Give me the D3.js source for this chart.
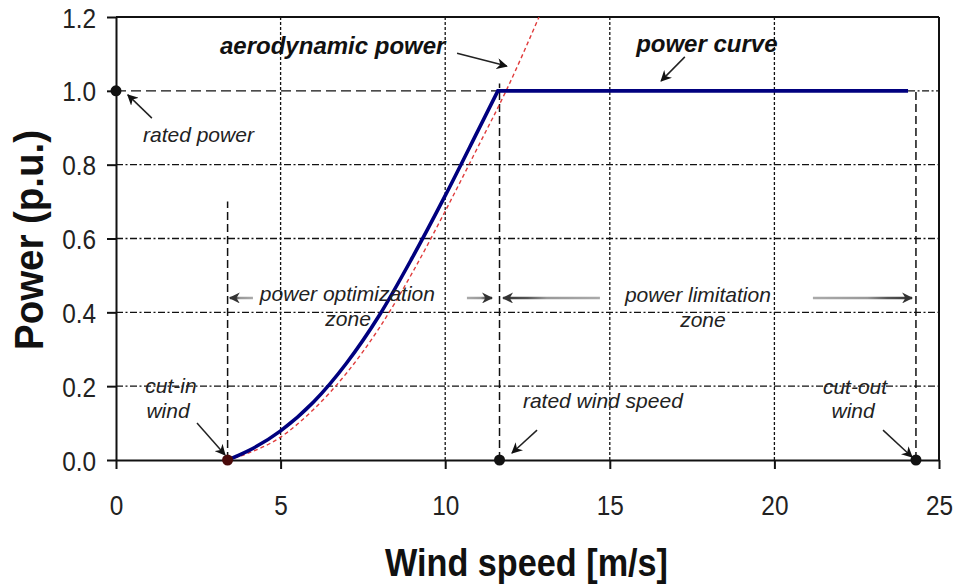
<!DOCTYPE html>
<html>
<head>
<meta charset="utf-8">
<script src="https://cdn.jsdelivr.net/npm/d3@7"></script>
<style>
  html, body { margin: 0; padding: 0; background: #fff; }
  svg { display: block; font-family: "Liberation Sans", Arial, sans-serif; }
</style>
</head>
<body>
<svg id="chart" width="956" height="585"></svg>
<script>
// ---------------- data ----------------
const xTicks = [0, 5, 10, 15, 20, 25];
const yTicks = [0.0, 0.2, 0.4, 0.6, 0.8, 1.0, 1.2];

// power curve (blue): rising part, wind speed [m/s] -> power [p.u.]
const powerWind  = [3.39, 4.0,   5.0,   6.0,   7.0,   8.0,   9.0,   10.0,  11.0,  11.6];
const powerValue = [0.0,  0.024, 0.079, 0.157, 0.262, 0.392, 0.548, 0.716, 0.893, 1.0];
// power curve: flat (rated) part
const flatWind  = [11.6, 24.06];
const flatValue = [1.0,  1.0];

// aerodynamic power (red dashed)
const aeroWind  = [3.39, 4.0,   5.0,   6.0,   7.0,   8.0,   9.0,   10.0,  11.0,  11.85, 12.85];
const aeroValue = [0.0,  0.018, 0.062, 0.137, 0.235, 0.358, 0.507, 0.674, 0.849, 1.0,   1.2];

const cutInSpeed = 3.39;
const ratedSpeed = 11.65;
const cutOutSpeed = 24.3;
const ratedPower = 1.0;

// ---------------- layout ----------------
const svg = d3.select("#chart");
const x = d3.scaleLinear().domain([0, 25]).range([116, 939]);
const y = d3.scaleLinear().domain([0, 1.2]).range([460, 17]);

const defs = svg.append("defs");
function marker(id, color) {
  defs.append("marker")
    .attr("id", id).attr("viewBox", "0 0 10 10")
    .attr("refX", 9).attr("refY", 5)
    .attr("markerWidth", 11).attr("markerHeight", 11)
    .attr("markerUnits", "userSpaceOnUse")
    .attr("orient", "auto")
    .append("path").attr("d", "M0,0 L10,5 L0,10 L3,5 Z").attr("fill", color);
}
marker("ah", "#111");
marker("ahz", "#333");

// grid: vertical dotted
const g = svg.append("g");
g.selectAll(".vg").data(xTicks.filter(d => d > 0 && d < 25)).enter().append("line")
  .attr("x1", d => x(d)).attr("x2", d => x(d))
  .attr("y1", y(1.2)).attr("y2", y(0))
  .attr("stroke", "#111").attr("stroke-width", 1.3).attr("stroke-dasharray", "3,2");

// grid: horizontal dash-dot
g.selectAll(".hg").data(yTicks.filter(d => d > 0 && d < 1.0)).enter().append("line")
  .attr("x1", x(0)).attr("x2", x(25))
  .attr("y1", d => y(d)).attr("y2", d => y(d))
  .attr("stroke", "#111").attr("stroke-width", 1.3).attr("stroke-dasharray", "7,2.5,2,2.5");

// 1.0 line: long dash up to rated speed, dash-dot after cut-out
g.append("line")
  .attr("x1", x(0)).attr("x2", x(ratedSpeed))
  .attr("y1", y(ratedPower)).attr("y2", y(ratedPower))
  .attr("stroke", "#111").attr("stroke-width", 1.4).attr("stroke-dasharray", "10,5");
g.append("line")
  .attr("x1", x(flatWind[1])).attr("x2", x(25))
  .attr("y1", y(ratedPower)).attr("y2", y(ratedPower))
  .attr("stroke", "#111").attr("stroke-width", 1.3).attr("stroke-dasharray", "7,2.5,2,2.5");

// vertical long-dash markers
const vlines = [[cutInSpeed, 0.70], [ratedSpeed, 1.02], [cutOutSpeed, 1.0]];
g.selectAll(".vl").data(vlines).enter().append("line")
  .attr("x1", d => x(d[0])).attr("x2", d => x(d[0]))
  .attr("y1", y(0)).attr("y2", d => y(d[1]))
  .attr("stroke", "#111").attr("stroke-width", 1.5).attr("stroke-dasharray", "8,4");

// axes
const fmt = d3.format(".1f");
const yAxis = svg.append("g").attr("transform", `translate(${x(0)},0)`)
  .call(d3.axisLeft(y).tickValues(yTicks).tickFormat(fmt).tickSizeInner(9).tickSizeOuter(0).tickPadding(11));
const xAxis = svg.append("g").attr("transform", `translate(0,${y(0)})`)
  .call(d3.axisBottom(x).tickValues(xTicks).tickFormat(d3.format("d")).tickSizeInner(9).tickSizeOuter(0));

[yAxis, xAxis].forEach(a => {
  a.selectAll("path.domain").attr("stroke", "#111").attr("stroke-width", 2);
  a.selectAll(".tick line").attr("stroke", "#111").attr("stroke-width", 2);
  a.selectAll(".tick text").attr("fill", "#222").attr("font-size", 28)
    .attr("font-family", "'Liberation Sans', Arial, sans-serif");
});
yAxis.selectAll(".tick text").attr("transform", "scale(0.87,1)").attr("x", -20 / 0.87).attr("dy", "0.36em");
xAxis.selectAll(".tick text").attr("transform", "scale(0.87,1)").attr("y", 55).attr("dy", 0);

// frame: top and right
svg.append("line").attr("x1", x(0)).attr("x2", x(25)).attr("y1", y(1.2)).attr("y2", y(1.2))
  .attr("stroke", "#111").attr("stroke-width", 2);
svg.append("line").attr("x1", x(25)).attr("x2", x(25)).attr("y1", y(1.2)).attr("y2", y(0))
  .attr("stroke", "#111").attr("stroke-width", 2);

// curves
defs.append("clipPath").attr("id", "plotclip").append("rect")
  .attr("x", x(0)).attr("y", y(1.2)).attr("width", x(25) - x(0)).attr("height", y(0) - y(1.2));

const aeroData = aeroWind.map((w, i) => [w, aeroValue[i]]);
const powerData = powerWind.map((w, i) => [w, powerValue[i]]);
const flatData = flatWind.map((w, i) => [w, flatValue[i]]);

const smooth = d3.line().x(d => x(d[0])).y(d => y(d[1])).curve(d3.curveMonotoneX);
const straight = d3.line().x(d => x(d[0])).y(d => y(d[1]));

svg.append("path").datum(aeroData).attr("clip-path", "url(#plotclip)")
  .attr("d", smooth)
  .attr("fill", "none").attr("stroke", "#e03c3c").attr("stroke-width", 1.4)
  .attr("stroke-dasharray", "4,3");

// blue power curve: smooth rising part + sharp knee + flat part in one path
svg.append("path")
  .attr("d", smooth(powerData) + straight(flatData).replace(/^M/, "L"))
  .attr("fill", "none").attr("stroke", "#00007f").attr("stroke-width", 3.6)
  .attr("stroke-linejoin", "miter");

// dots
const dots = [[0, ratedPower, "#111"], [cutInSpeed, 0, "#4a0a0a"], [ratedSpeed, 0, "#111"], [cutOutSpeed, 0, "#111"]];
svg.selectAll(".dot").data(dots).enter().append("circle")
  .attr("cx", d => x(d[0])).attr("cy", d => y(d[1])).attr("r", 5.5).attr("fill", d => d[2]);

// annotations (positions in data units)
const labels = [
  { t: "aerodynamic power", w: 3.16, p: 1.10, a: "start", bold: true },
  { t: "power curve", w: 15.80, p: 1.105, a: "start", bold: true },
  { t: "rated power", w: 0.82, p: 0.861, a: "start" },
  { t: "power optimization", w: 4.37, p: 0.431, a: "start" },
  { t: "zone", w: 7.05, p: 0.363, a: "middle" },
  { t: "power limitation", w: 15.46, p: 0.428, a: "start" },
  { t: "zone", w: 17.83, p: 0.360, a: "middle" },
  { t: "cut-in", w: 1.67, p: 0.181, a: "middle" },
  { t: "wind", w: 1.58, p: 0.114, a: "middle" },
  { t: "rated wind speed", w: 12.36, p: 0.141, a: "start" },
  { t: "cut-out", w: 22.45, p: 0.179, a: "middle" },
  { t: "wind", w: 22.39, p: 0.114, a: "middle" }
];
svg.selectAll(".ann").data(labels).enter().append("text")
  .attr("x", d => x(d.w)).attr("y", d => y(d.p))
  .attr("text-anchor", d => d.a)
  .attr("font-style", "italic")
  .attr("font-weight", d => d.bold ? "bold" : "normal")
  .attr("font-size", d => d.bold ? 24 : 21)
  .attr("fill", d => d.bold ? "#111" : "#222")
  .text(d => d.t);

// pointer arrows
const arrows = [
  [10.36, 1.102, 11.87, 1.067],
  [17.28, 1.092, 16.56, 1.027],
  [1.09, 0.926, 0.36, 0.989],
  [2.46, 0.100, 3.31, 0.014],
  [12.79, 0.081, 12.03, 0.019],
  [23.30, 0.081, 24.18, 0.008]
];
svg.selectAll(".arr").data(arrows).enter().append("line")
  .attr("x1", d => x(d[0])).attr("y1", d => y(d[1]))
  .attr("x2", d => x(d[2])).attr("y2", d => y(d[3]))
  .attr("stroke", "#222").attr("stroke-width", 1.5).attr("marker-end", "url(#ah)");

// zone arrows
const zoneArrows = [
  [4.16, 3.46],
  [10.66, 11.42],
  [14.70, 11.76],
  [21.17, 24.18]
];
const zoneY = 0.439;
zoneArrows.forEach((d, i) => {
  const gid = "zg" + i;
  const grad = defs.append("linearGradient").attr("id", gid)
    .attr("gradientUnits", "userSpaceOnUse")
    .attr("x1", x(d[0])).attr("x2", x(d[1])).attr("y1", 0).attr("y2", 0);
  grad.append("stop").attr("offset", "0%").attr("stop-color", "#aaa");
  grad.append("stop").attr("offset", "55%").attr("stop-color", "#999");
  grad.append("stop").attr("offset", "75%").attr("stop-color", "#555");
  grad.append("stop").attr("offset", "100%").attr("stop-color", "#333");
  svg.append("line")
    .attr("x1", x(d[0])).attr("x2", x(d[1]))
    .attr("y1", y(zoneY)).attr("y2", y(zoneY) + 0.01)
    .attr("stroke", `url(#${gid})`).attr("stroke-width", 2.6)
    .attr("marker-end", "url(#ahz)");
});

// axis titles
svg.append("text")
  .attr("x", (x(0) + x(25)) / 2 - 1).attr("y", 576)
  .attr("text-anchor", "middle").attr("font-weight", "bold").attr("font-size", 39)
  .attr("textLength", 283).attr("lengthAdjust", "spacingAndGlyphs")
  .attr("fill", "#111")
  .text("Wind speed [m/s]");

svg.append("text")
  .attr("transform", "translate(43,240) rotate(-90)")
  .attr("text-anchor", "middle").attr("font-weight", "bold").attr("font-size", 40)
  .attr("textLength", 220).attr("lengthAdjust", "spacingAndGlyphs")
  .attr("fill", "#111")
  .text("Power (p.u.)");
</script>
</body>
</html>
